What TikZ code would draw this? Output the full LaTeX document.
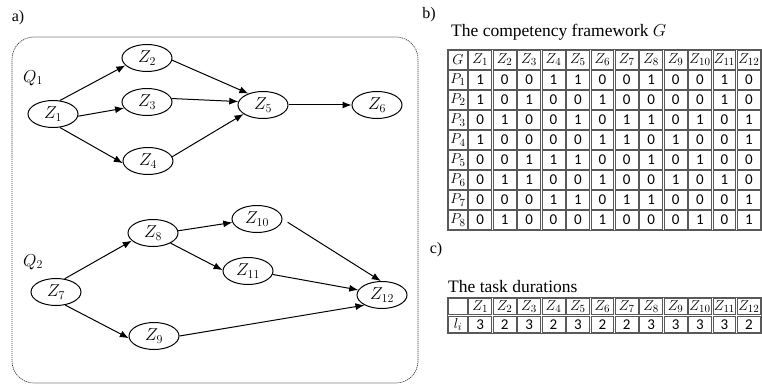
\documentclass[tikz,border=0pt]{standalone}
\usepackage{fontspec}
\setmainfont{Liberation Serif}
\newfontfamily\numfont{Carlito}
\usetikzlibrary{shapes.geometric,arrows.meta}
\begin{document}
\begin{tikzpicture}[x=1pt,y=-1pt,
 task/.style={ellipse, draw, line width=1pt, minimum width=50pt, minimum height=27pt, inner sep=0pt, font=\fontsize{17}{19}\selectfont},
 arr/.style={-{Latex[length=9pt,width=7pt]}, line width=1pt},
 lbl/.style={font=\fontsize{16}{18}\selectfont, inner sep=0pt},
 qlbl/.style={font=\fontsize{18}{20}\selectfont, inner sep=0pt},
 ttl/.style={font=\fontsize{17.5}{19}\selectfont, inner sep=0pt, anchor=west},
 cell/.style={draw=black!65, line width=0.7pt, inner sep=0pt, font=\fontsize{15}{16}\selectfont},
 numcell/.style={cell, font=\numfont\fontsize{15}{16}\selectfont},
 hcell/.style={cell, minimum width=18.4pt},
 zcell/.style={cell, minimum width=22.8pt},
]
\useasboundingbox (0,0) rectangle (762,385);

% ---- panel a ----
\node[lbl] (la) at (18,18) {a)};
\draw[dash pattern=on 1.2pt off 0.8pt, line width=0.7pt, rounded corners=22pt, black!75] (12,37) rectangle (418,383);
\node[qlbl] (q1) at (33,78) {$Q_1$};
\node[qlbl] (q2) at (33,262) {$Q_2$};

\node[task] (z1) at (53,114) {$Z_1$};
\node[task] (z2) at (147,58) {$Z_2$};
\node[task] (z3) at (147,102) {$Z_3$};
\node[task] (z4) at (148,161) {$Z_4$};
\node[task] (z5) at (263,105) {$Z_5$};
\node[task] (z6) at (377,105) {$Z_6$};

\node[task] (z7) at (56,292) {$Z_7$};
\node[task] (z8) at (153,233) {$Z_8$};
\node[task] (z10) at (257,219) {$Z_{10}$};
\node[task] (z11) at (248,271) {$Z_{11}$};
\node[task] (z12) at (382,295) {$Z_{12}$};
\node[task] (z9) at (154,336) {$Z_9$};

\draw[arr] (z1.63) -- (z2.199);
\draw[arr] (z1.-5) -- (z3.195);
\draw[arr] (z1.-63) -- (z4.185);
\draw[arr] (z2.355) -- (z5.142);
\draw[arr] (z3.8) -- (z5.172);
\draw[arr] (z4.10) -- (z5.205);
\draw[arr] (z5.east) -- (z6.west);

\draw[arr] (z7.57) -- (z8.200);
\draw[arr] (z7.-55) -- (z9.185);
\draw[arr] (z8.5) -- (z10.188);
\draw[arr] (z8.-30) -- (z11.178);
\draw[arr, shorten <=6pt] (z10.east) -- (z12.95);
\draw[arr] (z11.-8) -- (z12.168);
\draw[arr] (z9.east) -- (z12.210);

% ---- panel b ----
\node[lbl] (lb) at (429,15) {b)};
\node[ttl] (tb) at (451,32) {The competency framework $G$};
\draw[black!65, line width=0.7pt] (447.2,49.2) rectangle (761.4,230.8);
\node[hcell, minimum height=18.4pt] (bg) at (458,60) {$G$};
\foreach \j in {1,...,12} {
  \node[zcell, minimum height=18.4pt] (bz-\j) at ({468+(\j-0.5)*24.42},60) {$Z_{\j}$};
}
\foreach \vals [count=\i] in {
 {1,0,0,1,1,0,0,1,0,0,1,0},
 {1,0,1,0,0,1,0,0,0,0,1,0},
 {0,1,0,0,1,0,1,1,0,1,0,1},
 {1,0,0,0,0,1,1,0,1,0,0,1},
 {0,0,1,1,1,0,0,1,0,1,0,0},
 {0,1,1,0,0,1,0,0,1,0,1,0},
 {0,0,0,1,1,0,1,1,0,0,0,1},
 {0,1,0,0,0,1,0,0,0,1,0,1}} {
  \node[hcell, minimum height=18.4pt] (bp-\i) at (458,{60+20*\i}) {$P_{\i}$};
  \foreach \v [count=\j] in \vals {
    \node[numcell, minimum width=22.8pt, minimum height=18.4pt] (b-\i-\j) at ({468+(\j-0.5)*24.42},{60+20*\i}) {\v};
  }
}

% ---- panel c ----
\node[lbl] (lc) at (436,250) {c)};
\node[ttl] (tc) at (448,287) {The task durations};
\draw[black!65, line width=0.7pt] (447.2,297.7) rectangle (761.4,333.3);
\node[hcell, minimum height=16pt] (ce) at (458,306.75) {};
\node[hcell, minimum height=16pt] (cl) at (458,324.25) {$l_i$};
\foreach \v [count=\j] in {3,2,3,2,3,2,2,3,3,3,3,2} {
  \node[zcell, minimum height=16pt] (cz-\j) at ({468+(\j-0.5)*24.42},306.75) {$Z_{\j}$};
  \node[numcell, minimum width=22.8pt, minimum height=16pt] (cd-\j) at ({468+(\j-0.5)*24.42},324.25) {\v};
}
\end{tikzpicture}
\end{document}
